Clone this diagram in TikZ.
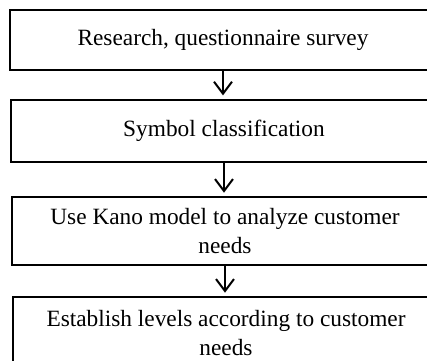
\documentclass[tikz,border=0pt]{standalone}
\usepackage{fontspec}
\setmainfont{Liberation Serif}
\usepackage{tikz}
\usetikzlibrary{arrows.meta,positioning}

\begin{document}
\begin{tikzpicture}[node distance=20.6pt,
    >={Straight Barb[length=9pt,width=13.5pt]},
    stepbox/.style={rectangle,draw,line width=1.5pt,align=center,minimum width=319.5pt,
        font=\fontsize{17.5pt}{21.5pt}\selectfont},
    flow/.style={->,line width=1.5pt,shorten >=2.5pt}]
    \useasboundingbox (0,0) rectangle (320.25pt,-270pt);
    \clip (0,0) rectangle (320.25pt,-270pt);

    \node[stepbox,minimum height=45pt] (survey) at (167.25pt,-30.2pt) {Research, questionnaire survey};
    \node[stepbox,minimum height=46.5pt,below=of survey,xshift=0.75pt] (classify) {Symbol classification};
    \node[stepbox,minimum height=51pt,below=25pt of classify,xshift=0.75pt] (kano) {Use Kano model to analyze customer\\needs};
    \node[stepbox,minimum height=54pt,below=22.5pt of kano,xshift=0.75pt] (levels) {Establish levels according to customer\\needs};

    \draw[flow] (survey.south) -- (survey.south |- classify.north);
    \draw[flow] (classify.south) -- (classify.south |- kano.north);
    \draw[flow] (kano.south) -- (kano.south |- levels.north);
\end{tikzpicture}
\end{document}
